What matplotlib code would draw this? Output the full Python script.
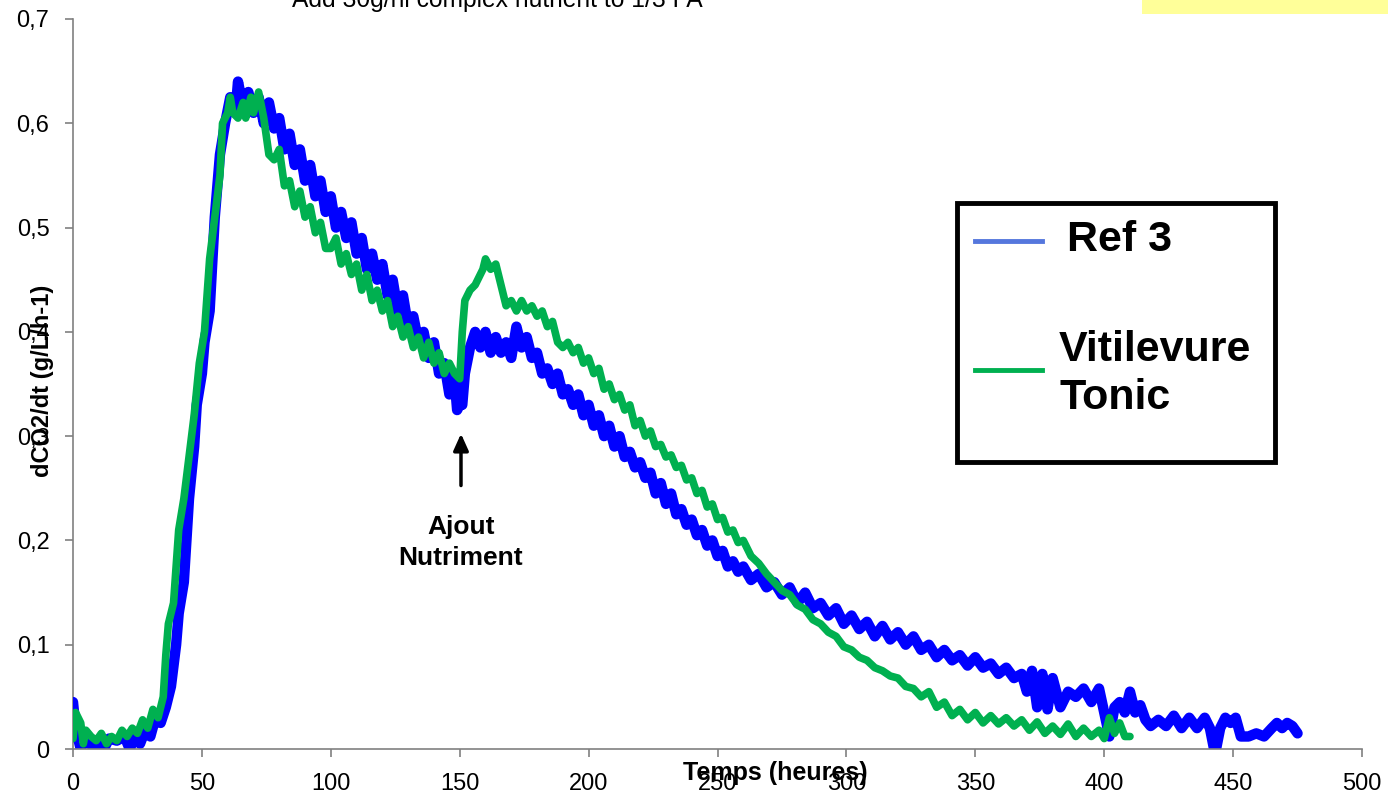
import matplotlib
matplotlib.use("Agg")
import matplotlib.pyplot as plt
from matplotlib.patches import Rectangle
from matplotlib.lines import Line2D
from matplotlib.ticker import FuncFormatter

plt.rcParams['font.family'] = ['Liberation Sans', 'DejaVu Sans']

# Ref 3 (blue)
ref_t = [0, 1, 3, 5, 8, 10, 12, 14, 17, 20, 22, 24, 26, 28, 30, 32, 34, 36, 38, 40,
         41, 43, 45, 47, 48, 50, 51, 53, 55, 57, 59, 61, 63, 64, 66, 68, 70, 72, 74, 76,
         78, 80, 82, 84, 86, 88, 90, 92, 94, 96, 98, 100, 102, 104, 106, 108, 110, 112, 114, 116,
         118, 120, 122, 124, 126, 128, 130, 132, 134, 136, 138, 140, 142, 144, 146, 148, 149, 150, 151, 152,
         154, 156, 158, 160, 162, 164, 166, 168, 170, 172, 174, 176, 178, 180, 182, 184, 186, 188, 190, 192,
         194, 196, 198, 200, 202, 204, 206, 208, 210, 212, 214, 216, 218, 220, 222, 224, 226, 228, 230, 232,
         234, 236, 238, 240, 242, 244, 246, 248, 250, 252, 254, 256, 258, 260, 263, 266, 269, 272, 275, 278,
         281, 284, 287, 290, 293, 296, 299, 302, 305, 308, 311, 314, 317, 320, 323, 326, 329, 332, 335, 338,
         341, 344, 347, 350, 353, 356, 359, 362, 365, 368, 370, 372, 374, 376, 378, 380, 383, 386, 389, 392,
         395, 398, 400, 402, 404, 406, 408, 410, 412, 414, 416, 418, 421, 424, 427, 430, 433, 436, 439, 441,
         443, 445, 447, 449, 451, 453, 456, 459, 462, 465, 467, 469, 471, 473, 475]
ref_v = [0.045, 0.02, 0.0, 0.012, 0.0, 0.005, 0.0, 0.01, 0.008, 0.012, 0.0, 0.012, 0.005, 0.018, 0.012, 0.03, 0.025, 0.04, 0.06, 0.10,
         0.13, 0.16, 0.24, 0.29, 0.33, 0.36, 0.39, 0.42, 0.51, 0.57, 0.60, 0.625, 0.61, 0.64, 0.615, 0.63, 0.61, 0.625, 0.60, 0.62,
         0.595, 0.605, 0.575, 0.59, 0.56, 0.575, 0.545, 0.56, 0.53, 0.545, 0.515, 0.53, 0.50, 0.515, 0.49, 0.505, 0.475, 0.49, 0.46, 0.475,
         0.45, 0.465, 0.435, 0.45, 0.42, 0.435, 0.405, 0.415, 0.39, 0.40, 0.375, 0.39, 0.36, 0.37, 0.34, 0.355, 0.325, 0.33, 0.33, 0.36,
         0.385, 0.40, 0.385, 0.40, 0.38, 0.395, 0.38, 0.39, 0.375, 0.405, 0.385, 0.395, 0.375, 0.38, 0.36, 0.365, 0.35, 0.36, 0.34, 0.345,
         0.33, 0.34, 0.32, 0.33, 0.31, 0.32, 0.30, 0.31, 0.29, 0.30, 0.28, 0.285, 0.27, 0.275, 0.26, 0.265, 0.245, 0.255, 0.235, 0.245,
         0.225, 0.23, 0.215, 0.22, 0.205, 0.21, 0.195, 0.2, 0.185, 0.19, 0.175, 0.18, 0.17, 0.175, 0.162, 0.168, 0.155, 0.16, 0.148, 0.155,
         0.14, 0.15, 0.135, 0.14, 0.128, 0.135, 0.12, 0.128, 0.115, 0.122, 0.108, 0.118, 0.105, 0.112, 0.1, 0.108, 0.095, 0.1, 0.088, 0.095,
         0.085, 0.09, 0.08, 0.088, 0.078, 0.082, 0.072, 0.078, 0.068, 0.072, 0.055, 0.075, 0.04, 0.072, 0.038, 0.068, 0.04, 0.055, 0.05, 0.058,
         0.045, 0.058, 0.035, 0.012, 0.04, 0.045, 0.035, 0.055, 0.035, 0.042, 0.028, 0.022, 0.028, 0.022, 0.032, 0.02, 0.03, 0.02, 0.03, 0.02,
         -0.005, 0.02, 0.03, 0.025, 0.03, 0.012, 0.012, 0.015, 0.012, 0.02, 0.025, 0.02, 0.025, 0.022, 0.015]

# Vitilevure Tonic (green)
vit_t = [0, 1, 3, 4, 5, 7, 9, 11, 13, 15, 17, 19, 21, 23, 25, 27, 29, 31, 33, 35,
         36, 37, 39, 41, 43, 45, 47, 49, 51, 53, 55, 57, 58, 60, 61, 62, 64, 66, 67, 69,
         70, 72, 74, 76, 78, 80, 82, 84, 86, 88, 90, 92, 94, 96, 98, 100, 102, 104, 106, 108,
         110, 112, 114, 116, 118, 120, 122, 124, 126, 128, 130, 132, 134, 136, 138, 140, 142, 144, 146, 148,
         150, 151, 152, 154, 156, 158, 159, 160, 162, 164, 166, 168, 170, 172, 174, 176, 178, 180, 182, 184,
         186, 188, 190, 192, 194, 196, 198, 200, 202, 204, 206, 208, 210, 212, 214, 216, 218, 220, 222, 224,
         226, 228, 230, 232, 234, 236, 238, 240, 242, 244, 246, 248, 250, 252, 254, 256, 258, 260, 263, 266,
         269, 272, 275, 278, 281, 284, 287, 290, 293, 296, 299, 302, 305, 308, 311, 314, 317, 320, 323, 326,
         329, 332, 335, 338, 341, 344, 347, 350, 353, 356, 359, 362, 365, 368, 371, 374, 377, 380, 383, 386,
         389, 392, 395, 398, 400, 402, 404, 406, 408, 410]
vit_v = [0.01, 0.035, 0.025, 0.005, 0.018, 0.012, 0.008, 0.015, 0.005, 0.012, 0.008, 0.018, 0.012, 0.02, 0.015, 0.028, 0.02, 0.038, 0.03, 0.05,
         0.09, 0.12, 0.14, 0.21, 0.24, 0.28, 0.32, 0.37, 0.40, 0.47, 0.51, 0.55, 0.60, 0.61, 0.625, 0.61, 0.605, 0.62, 0.605, 0.625,
         0.61, 0.63, 0.605, 0.57, 0.565, 0.575, 0.54, 0.545, 0.52, 0.535, 0.51, 0.52, 0.495, 0.505, 0.48, 0.48, 0.49, 0.465, 0.475, 0.455,
         0.465, 0.44, 0.455, 0.43, 0.44, 0.42, 0.43, 0.405, 0.415, 0.395, 0.405, 0.385, 0.395, 0.375, 0.39, 0.37, 0.38, 0.36, 0.37, 0.36,
         0.355, 0.40, 0.43, 0.44, 0.445, 0.455, 0.46, 0.47, 0.46, 0.465, 0.445, 0.425, 0.43, 0.42, 0.43, 0.42, 0.425, 0.415, 0.42, 0.405,
         0.41, 0.39, 0.385, 0.39, 0.38, 0.385, 0.37, 0.375, 0.36, 0.365, 0.345, 0.35, 0.335, 0.34, 0.325, 0.33, 0.31, 0.315, 0.3, 0.305,
         0.29, 0.292, 0.28, 0.282, 0.27, 0.272, 0.258, 0.26, 0.245, 0.248, 0.232, 0.235, 0.22, 0.222, 0.208, 0.21, 0.198, 0.2, 0.185, 0.178,
         0.168, 0.16, 0.152, 0.148, 0.138, 0.134, 0.124, 0.12, 0.112, 0.108, 0.098, 0.095, 0.088, 0.085, 0.078, 0.075, 0.07, 0.068, 0.06, 0.058,
         0.05, 0.055, 0.04, 0.045, 0.032, 0.038, 0.028, 0.035, 0.025, 0.032, 0.024, 0.03, 0.022, 0.028, 0.018, 0.026, 0.015, 0.022, 0.014, 0.024,
         0.012, 0.02, 0.012, 0.018, 0.01, 0.03, 0.015, 0.025, 0.012, 0.012]

series_labels = ["Ref 3", "Vitilevure\nTonic"]
x_ticks = [0, 50, 100, 150, 200, 250, 300, 350, 400, 450, 500]
y_ticks = [0, 0.1, 0.2, 0.3, 0.4, 0.5, 0.6, 0.7]

W, H = 1388, 793
fig = plt.figure(figsize=(W / 100, H / 100), dpi=100)
ax = fig.add_axes([73 / W, 1 - 749 / H, (1362 - 73) / W, (749 - 19) / H])

ax.plot(ref_t, ref_v, color="#0000FF", lw=7.5, solid_capstyle="round", solid_joinstyle="round", zorder=2)
ax.plot(vit_t, vit_v, color="#00B050", lw=5.5, solid_capstyle="round", solid_joinstyle="round", zorder=3)

ax.set_xlim(0, 500)
ax.set_ylim(0, 0.7)
ax.set_xticks(x_ticks)
ax.set_yticks(y_ticks)
ax.yaxis.set_major_formatter(FuncFormatter(lambda v, p: "0" if v == 0 else f"{v:.1f}".replace(".", ",")))
ax.tick_params(axis="both", labelsize=17, length=6, width=1.2, color="#808080", pad=11)
for s in ["top", "right"]:
    ax.spines[s].set_visible(False)
for s in ["left", "bottom"]:
    ax.spines[s].set_color("#808080")
    ax.spines[s].set_linewidth(1.2)
ax.spines["left"].set_zorder(1)

# axis labels placed like the original (overlapping tick labels)
fig.text(775 / W, 1 - 773 / H, "Temps (heures)", ha="center", va="center", fontsize=18, fontweight="bold")
fig.text(43 / W, 1 - 381 / H, "dCO2/dt (g/L/h-1)", ha="center", va="center", rotation=90, fontsize=17, fontweight="bold")

# cropped title and yellow box
fig.text(497 / W, 1 - 7 / H, "Add 30g/hl complex nutrient to 1/3 FA", ha="center", va="baseline", fontsize=17.7)
fig.patches.append(Rectangle((1142 / W, 1 - 14 / H), (W - 1142) / W, 14 / H, transform=fig.transFigure,
                             facecolor="#FFFF99", edgecolor="none"))

# annotation arrow
ax.annotate("", xy=(150.5, 0.305), xytext=(150.5, 0.25),
            arrowprops=dict(arrowstyle="-|>,head_width=0.45,head_length=1.0", color="black", lw=2.5))
ax.text(150.5, 0.198, "Ajout\nNutriment", ha="center", va="center", fontsize=19, fontweight="bold", linespacing=1.35)

# legend box
fig.patches.append(Rectangle((957 / W, 1 - 462 / H), (1275 - 957) / W, (462 - 203) / H, transform=fig.transFigure,
                             facecolor="white", edgecolor="black", lw=3.5, zorder=5))
fig.lines.append(Line2D([975 / W, 1042 / W], [1 - 241 / H, 1 - 241 / H], transform=fig.transFigure,
                        color="#5577DD", lw=3.5, zorder=6))
fig.lines.append(Line2D([975 / W, 1042 / W], [1 - 370 / H, 1 - 370 / H], transform=fig.transFigure,
                        color="#00B050", lw=3.5, zorder=6))
fig.text(1067 / W, 1 - 240 / H, series_labels[0], ha="left", va="center", fontsize=31, fontweight="bold", zorder=6)
fig.text(1059 / W, 1 - 374 / H, series_labels[1], ha="left", va="center", fontsize=31, fontweight="bold",
         linespacing=1.25, zorder=6)

fig.savefig("out.png", dpi=100)
